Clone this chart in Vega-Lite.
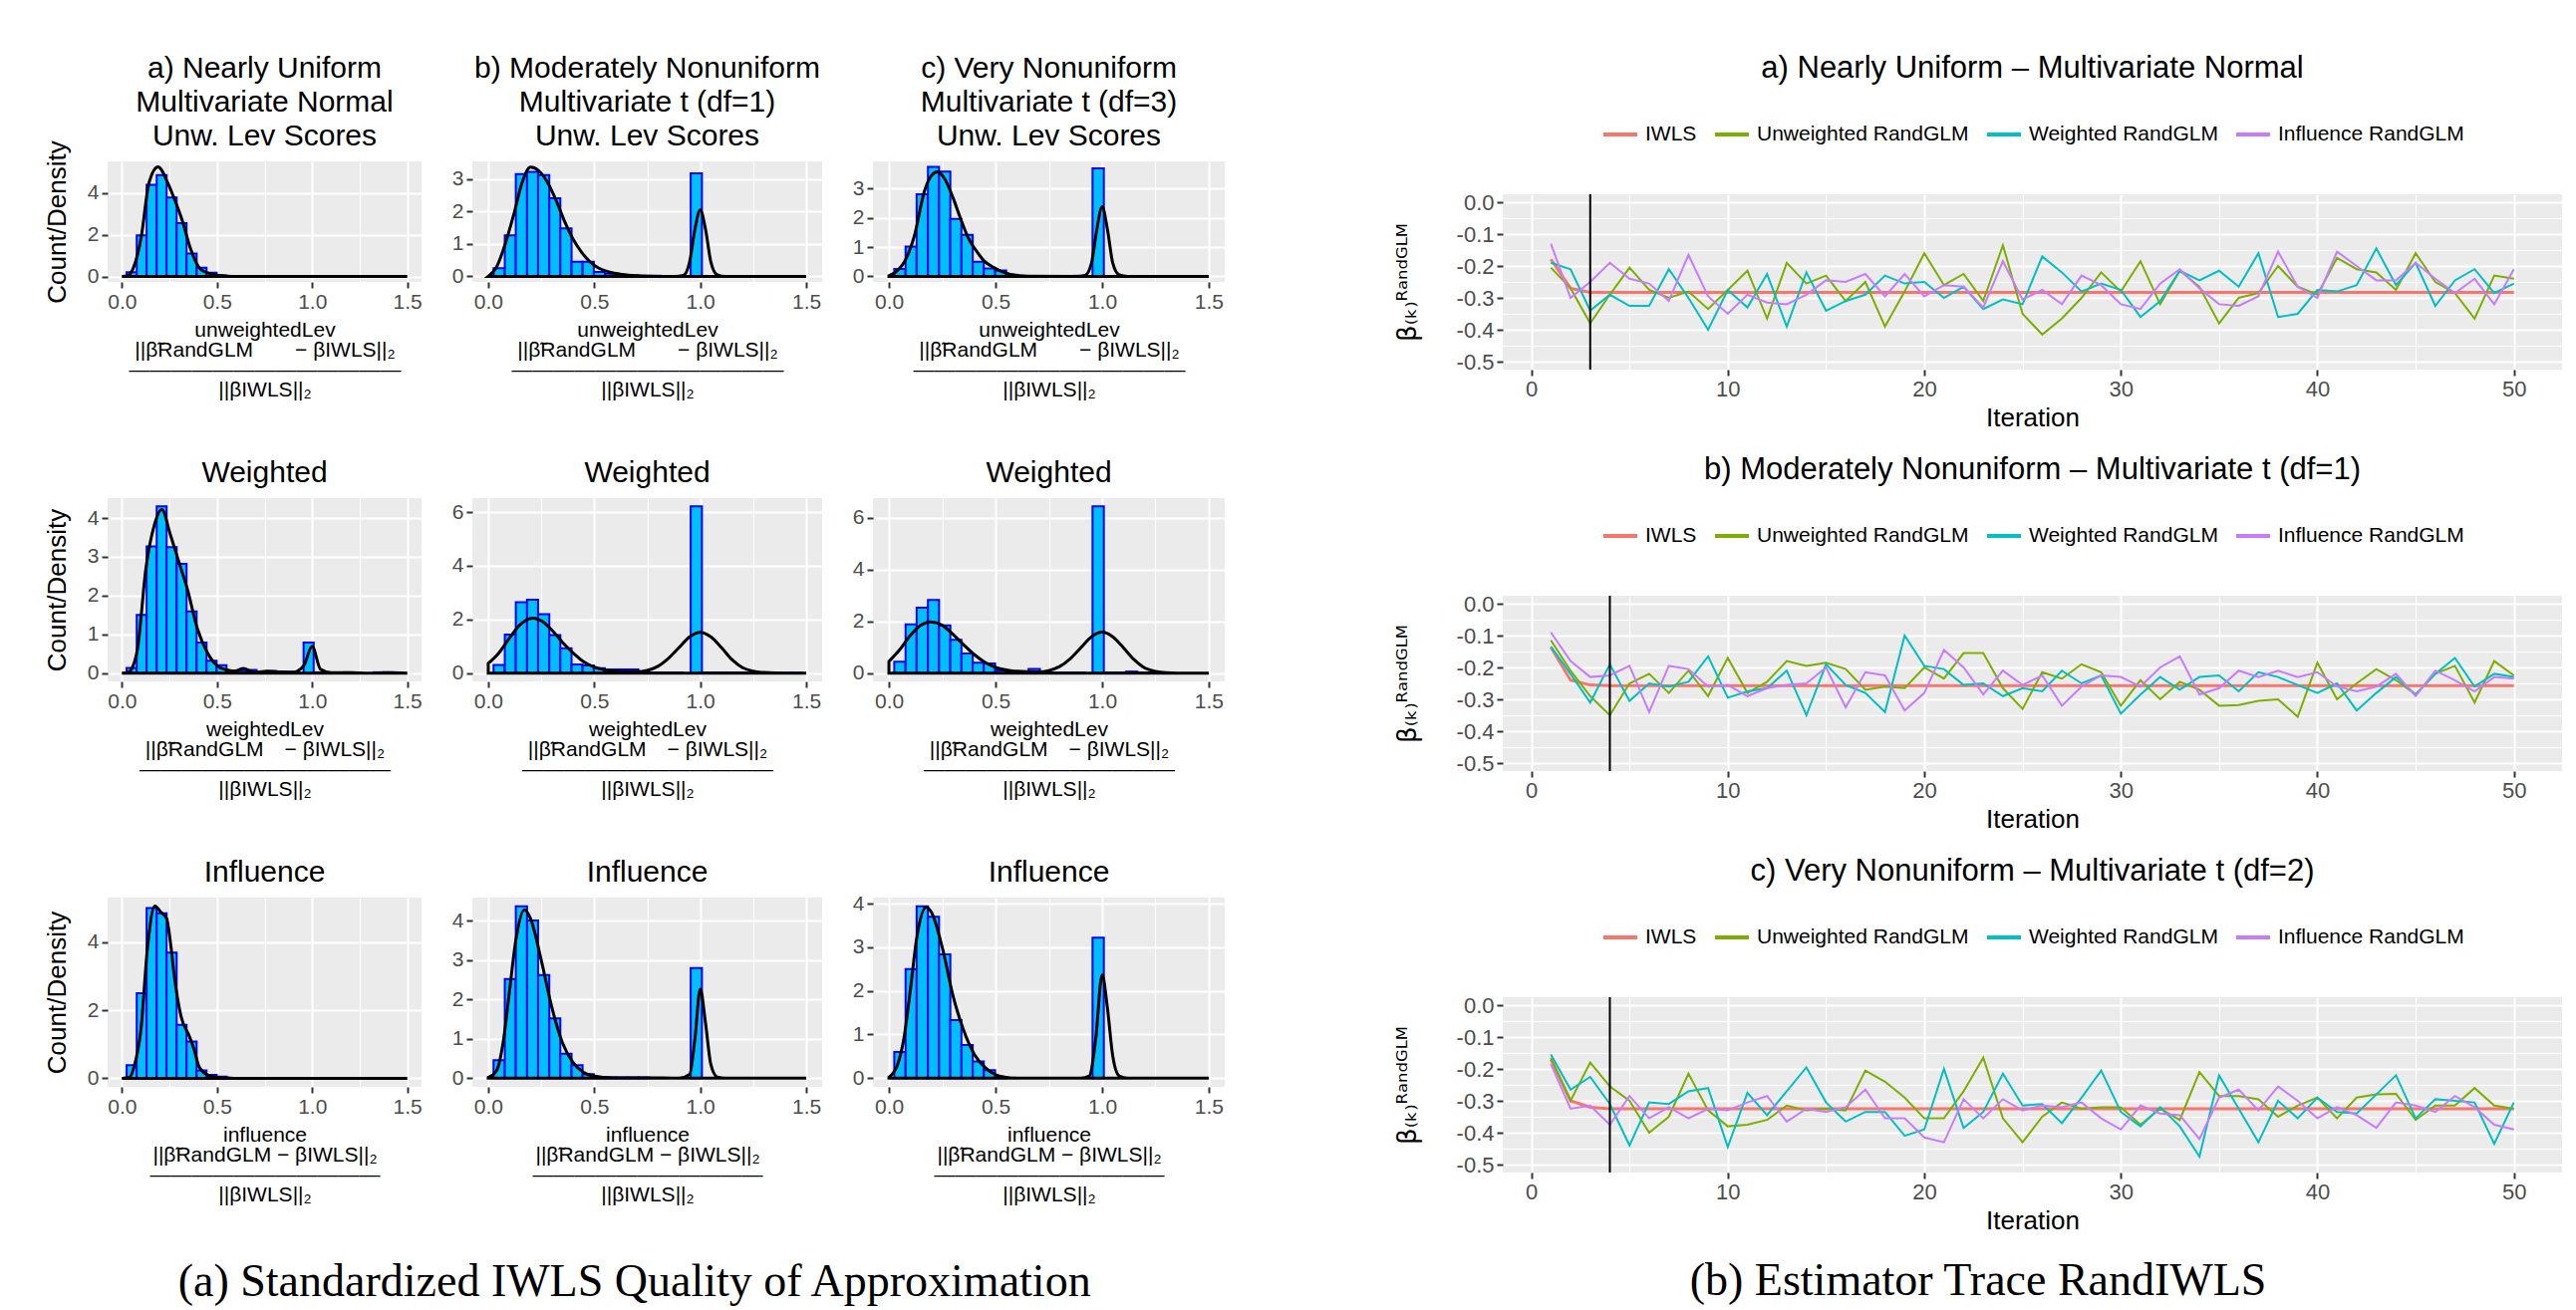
{
  "$schema": "https://vega.github.io/schema/vega-lite/v6.json",
  "padding": {"left": 44, "top": 42, "right": 5, "bottom": 5},
  "datasets": {
    "bars": [
      {"p":"11","a":0.025,"b":0.078,"h":0.21},{"p":"11","a":0.078,"b":0.130,"h":1.97},{"p":"11","a":0.130,"b":0.183,"h":4.39},{"p":"11","a":0.183,"b":0.235,"h":4.86},{"p":"11","a":0.235,"b":0.288,"h":3.78},{"p":"11","a":0.288,"b":0.340,"h":2.55},{"p":"11","a":0.340,"b":0.393,"h":1.1},{"p":"11","a":0.393,"b":0.445,"h":0.42},{"p":"11","a":0.445,"b":0.498,"h":0.18},{"p":"11","a":0.498,"b":0.550,"h":0.05},
      {"p":"12","a":0.025,"b":0.078,"h":0.25},{"p":"12","a":0.078,"b":0.130,"h":1.27},{"p":"12","a":0.130,"b":0.183,"h":3.16},{"p":"12","a":0.183,"b":0.235,"h":3.23},{"p":"12","a":0.235,"b":0.288,"h":3.13},{"p":"12","a":0.288,"b":0.340,"h":2.41},{"p":"12","a":0.340,"b":0.393,"h":1.48},{"p":"12","a":0.393,"b":0.445,"h":0.45},{"p":"12","a":0.445,"b":0.498,"h":0.45},{"p":"12","a":0.498,"b":0.550,"h":0.14},{"p":"12","a":0.550,"b":0.603,"h":0.08},{"p":"12","a":0.603,"b":0.655,"h":0.04},{"p":"12","a":0.655,"b":0.708,"h":0.03},{"p":"12","a":0.708,"b":0.760,"h":0.02},{"p":"12","a":0.760,"b":0.813,"h":0.02},{"p":"12","a":0.955,"b":1.008,"h":3.18},
      {"p":"13","a":0.025,"b":0.078,"h":0.25},{"p":"13","a":0.078,"b":0.130,"h":1.02},{"p":"13","a":0.130,"b":0.183,"h":2.81},{"p":"13","a":0.183,"b":0.235,"h":3.74},{"p":"13","a":0.235,"b":0.288,"h":3.58},{"p":"13","a":0.288,"b":0.340,"h":1.96},{"p":"13","a":0.340,"b":0.393,"h":1.42},{"p":"13","a":0.393,"b":0.445,"h":0.5},{"p":"13","a":0.445,"b":0.498,"h":0.27},{"p":"13","a":0.498,"b":0.550,"h":0.2},{"p":"13","a":0.550,"b":0.603,"h":0.05},{"p":"13","a":0.865,"b":0.918,"h":0.02},{"p":"13","a":0.955,"b":1.008,"h":3.69},
      {"p":"21","a":0.025,"b":0.078,"h":0.13},{"p":"21","a":0.078,"b":0.130,"h":1.5},{"p":"21","a":0.130,"b":0.183,"h":3.27},{"p":"21","a":0.183,"b":0.235,"h":4.3},{"p":"21","a":0.235,"b":0.288,"h":3.25},{"p":"21","a":0.288,"b":0.340,"h":2.82},{"p":"21","a":0.340,"b":0.393,"h":1.59},{"p":"21","a":0.393,"b":0.445,"h":0.79},{"p":"21","a":0.445,"b":0.498,"h":0.32},{"p":"21","a":0.498,"b":0.550,"h":0.2},{"p":"21","a":0.550,"b":0.603,"h":0.06},{"p":"21","a":0.603,"b":0.655,"h":0.06},{"p":"21","a":0.655,"b":0.708,"h":0.08},{"p":"21","a":0.708,"b":0.760,"h":0.03},{"p":"21","a":0.760,"b":0.813,"h":0.05},{"p":"21","a":0.813,"b":0.865,"h":0.04},{"p":"21","a":0.865,"b":0.918,"h":0.03},{"p":"21","a":0.955,"b":1.008,"h":0.79},{"p":"21","a":1.008,"b":1.060,"h":0.02},{"p":"21","a":1.165,"b":1.218,"h":0.02},{"p":"21","a":1.323,"b":1.375,"h":0.02},{"p":"21","a":1.375,"b":1.428,"h":0.02},
      {"p":"22","a":0.025,"b":0.078,"h":0.3},{"p":"22","a":0.078,"b":0.130,"h":1.43},{"p":"22","a":0.130,"b":0.183,"h":2.64},{"p":"22","a":0.183,"b":0.235,"h":2.73},{"p":"22","a":0.235,"b":0.288,"h":2.2},{"p":"22","a":0.288,"b":0.340,"h":1.42},{"p":"22","a":0.340,"b":0.393,"h":0.92},{"p":"22","a":0.393,"b":0.445,"h":0.32},{"p":"22","a":0.445,"b":0.498,"h":0.28},{"p":"22","a":0.498,"b":0.550,"h":0.18},{"p":"22","a":0.550,"b":0.603,"h":0.14},{"p":"22","a":0.603,"b":0.655,"h":0.14},{"p":"22","a":0.655,"b":0.708,"h":0.14},{"p":"22","a":0.708,"b":0.760,"h":0.02},{"p":"22","a":0.760,"b":0.813,"h":0.02},{"p":"22","a":0.813,"b":0.865,"h":0.02},{"p":"22","a":0.865,"b":0.918,"h":0.02},{"p":"22","a":0.955,"b":1.008,"h":6.21},{"p":"22","a":1.008,"b":1.060,"h":0.02},{"p":"22","a":1.060,"b":1.113,"h":0.02},{"p":"22","a":1.113,"b":1.165,"h":0.02},{"p":"22","a":1.165,"b":1.218,"h":0.02},{"p":"22","a":1.375,"b":1.428,"h":0.01},{"p":"22","a":1.428,"b":1.480,"h":0.01},
      {"p":"23","a":0.025,"b":0.078,"h":0.44},{"p":"23","a":0.078,"b":0.130,"h":1.88},{"p":"23","a":0.130,"b":0.183,"h":2.53},{"p":"23","a":0.183,"b":0.235,"h":2.83},{"p":"23","a":0.235,"b":0.288,"h":1.84},{"p":"23","a":0.288,"b":0.340,"h":1.29},{"p":"23","a":0.340,"b":0.393,"h":0.76},{"p":"23","a":0.393,"b":0.445,"h":0.4},{"p":"23","a":0.445,"b":0.498,"h":0.37},{"p":"23","a":0.498,"b":0.550,"h":0.1},{"p":"23","a":0.550,"b":0.603,"h":0.06},{"p":"23","a":0.603,"b":0.655,"h":0.04},{"p":"23","a":0.655,"b":0.708,"h":0.16},{"p":"23","a":0.708,"b":0.760,"h":0.02},{"p":"23","a":0.760,"b":0.813,"h":0.02},{"p":"23","a":0.813,"b":0.865,"h":0.02},{"p":"23","a":0.865,"b":0.918,"h":0.02},{"p":"23","a":0.955,"b":1.008,"h":6.44},{"p":"23","a":1.008,"b":1.060,"h":0.02},{"p":"23","a":1.060,"b":1.113,"h":0.02},{"p":"23","a":1.113,"b":1.165,"h":0.06},{"p":"23","a":1.165,"b":1.218,"h":0.02},{"p":"23","a":1.218,"b":1.270,"h":0.02},{"p":"23","a":1.270,"b":1.323,"h":0.02},
      {"p":"31","a":0.025,"b":0.078,"h":0.39},{"p":"31","a":0.078,"b":0.130,"h":2.5},{"p":"31","a":0.130,"b":0.183,"h":5.0},{"p":"31","a":0.183,"b":0.235,"h":4.85},{"p":"31","a":0.235,"b":0.288,"h":3.69},{"p":"31","a":0.288,"b":0.340,"h":1.57},{"p":"31","a":0.340,"b":0.393,"h":1.08},{"p":"31","a":0.393,"b":0.445,"h":0.23},{"p":"31","a":0.445,"b":0.498,"h":0.1},{"p":"31","a":0.498,"b":0.550,"h":0.05},
      {"p":"32","a":0.025,"b":0.078,"h":0.46},{"p":"32","a":0.078,"b":0.130,"h":2.52},{"p":"32","a":0.130,"b":0.183,"h":4.37},{"p":"32","a":0.183,"b":0.235,"h":4.01},{"p":"32","a":0.235,"b":0.288,"h":2.62},{"p":"32","a":0.288,"b":0.340,"h":1.52},{"p":"32","a":0.340,"b":0.393,"h":0.62},{"p":"32","a":0.393,"b":0.445,"h":0.33},{"p":"32","a":0.445,"b":0.498,"h":0.1},{"p":"32","a":0.498,"b":0.550,"h":0.03},{"p":"32","a":0.550,"b":0.603,"h":0.02},{"p":"32","a":0.603,"b":0.655,"h":0.02},{"p":"32","a":0.655,"b":0.708,"h":0.02},{"p":"32","a":0.708,"b":0.760,"h":0.02},{"p":"32","a":0.955,"b":1.008,"h":2.8},
      {"p":"33","a":0.025,"b":0.078,"h":0.6},{"p":"33","a":0.078,"b":0.130,"h":2.5},{"p":"33","a":0.130,"b":0.183,"h":3.94},{"p":"33","a":0.183,"b":0.235,"h":3.7},{"p":"33","a":0.235,"b":0.288,"h":2.84},{"p":"33","a":0.288,"b":0.340,"h":1.33},{"p":"33","a":0.340,"b":0.393,"h":0.76},{"p":"33","a":0.393,"b":0.445,"h":0.38},{"p":"33","a":0.445,"b":0.498,"h":0.18},{"p":"33","a":0.498,"b":0.550,"h":0.03},{"p":"33","a":0.955,"b":1.008,"h":3.22}
    ],
    "dens": [
      {"p":"11","x":0,"d":0},{"p":"11","x":0.03,"d":0.03},{"p":"11","x":0.06,"d":0.4},{"p":"11","x":0.1,"d":1.8},{"p":"11","x":0.143,"d":4.5},{"p":"11","x":0.19,"d":5.25},{"p":"11","x":0.24,"d":4.5},{"p":"11","x":0.275,"d":3.73},{"p":"11","x":0.318,"d":2.66},{"p":"11","x":0.362,"d":1.3},{"p":"11","x":0.414,"d":0.34},{"p":"11","x":0.48,"d":0.1},{"p":"11","x":0.55,"d":0.02},{"p":"11","x":0.62,"d":0},{"p":"11","x":1.5,"d":0},
      {"p":"12","x":0,"d":0},{"p":"12","x":0.04,"d":0.3},{"p":"12","x":0.08,"d":1.0},{"p":"12","x":0.12,"d":1.9},{"p":"12","x":0.16,"d":2.9},{"p":"12","x":0.2,"d":3.37},{"p":"12","x":0.24,"d":3.25},{"p":"12","x":0.28,"d":2.9},{"p":"12","x":0.32,"d":2.35},{"p":"12","x":0.36,"d":1.7},{"p":"12","x":0.4,"d":1.15},{"p":"12","x":0.44,"d":0.75},{"p":"12","x":0.48,"d":0.45},{"p":"12","x":0.52,"d":0.26},{"p":"12","x":0.58,"d":0.12},{"p":"12","x":0.66,"d":0.04},{"p":"12","x":0.75,"d":0.01},{"p":"12","x":0.88,"d":0},{"p":"12","x":0.92,"d":0.03},{"p":"12","x":0.95,"d":0.45},{"p":"12","x":0.975,"d":1.45},{"p":"12","x":1.0,"d":2.05},{"p":"12","x":1.025,"d":1.45},{"p":"12","x":1.05,"d":0.45},{"p":"12","x":1.08,"d":0.05},{"p":"12","x":1.12,"d":0},{"p":"12","x":1.5,"d":0},
      {"p":"13","x":0,"d":0.02},{"p":"13","x":0.04,"d":0.2},{"p":"13","x":0.073,"d":0.5},{"p":"13","x":0.12,"d":1.4},{"p":"13","x":0.166,"d":2.9},{"p":"13","x":0.2,"d":3.45},{"p":"13","x":0.228,"d":3.57},{"p":"13","x":0.26,"d":3.35},{"p":"13","x":0.3,"d":2.7},{"p":"13","x":0.337,"d":1.95},{"p":"13","x":0.37,"d":1.35},{"p":"13","x":0.415,"d":0.82},{"p":"13","x":0.446,"d":0.53},{"p":"13","x":0.492,"d":0.3},{"p":"13","x":0.57,"d":0.07},{"p":"13","x":0.65,"d":0.01},{"p":"13","x":0.88,"d":0},{"p":"13","x":0.92,"d":0.03},{"p":"13","x":0.95,"d":0.45},{"p":"13","x":0.975,"d":1.6},{"p":"13","x":1.0,"d":2.38},{"p":"13","x":1.025,"d":1.6},{"p":"13","x":1.05,"d":0.45},{"p":"13","x":1.08,"d":0.05},{"p":"13","x":1.12,"d":0},{"p":"13","x":1.5,"d":0},
      {"p":"21","x":0,"d":0},{"p":"21","x":0.03,"d":0.01},{"p":"21","x":0.06,"d":0.2},{"p":"21","x":0.082,"d":0.62},{"p":"21","x":0.126,"d":2.69},{"p":"21","x":0.17,"d":3.81},{"p":"21","x":0.21,"d":4.22},{"p":"21","x":0.256,"d":3.55},{"p":"21","x":0.3,"d":2.86},{"p":"21","x":0.344,"d":2.17},{"p":"21","x":0.397,"d":1.14},{"p":"21","x":0.449,"d":0.53},{"p":"21","x":0.5,"d":0.19},{"p":"21","x":0.55,"d":0.08},{"p":"21","x":0.59,"d":0.05},{"p":"21","x":0.64,"d":0.12},{"p":"21","x":0.68,"d":0.04},{"p":"21","x":0.71,"d":0.02},{"p":"21","x":0.76,"d":0.05},{"p":"21","x":0.82,"d":0.03},{"p":"21","x":0.9,"d":0.02},{"p":"21","x":0.956,"d":0.19},{"p":"21","x":1.0,"d":0.69},{"p":"21","x":1.044,"d":0.1},{"p":"21","x":1.1,"d":0.01},{"p":"21","x":1.2,"d":0.01},{"p":"21","x":1.3,"d":0},{"p":"21","x":1.4,"d":0.01},{"p":"21","x":1.5,"d":0},
      {"p":"22","x":0,"d":0.36},{"p":"22","x":0.05,"d":0.75},{"p":"22","x":0.1,"d":1.3},{"p":"22","x":0.15,"d":1.8},{"p":"22","x":0.21,"d":2.05},{"p":"22","x":0.26,"d":1.9},{"p":"22","x":0.3,"d":1.6},{"p":"22","x":0.35,"d":1.15},{"p":"22","x":0.4,"d":0.75},{"p":"22","x":0.45,"d":0.42},{"p":"22","x":0.5,"d":0.22},{"p":"22","x":0.55,"d":0.12},{"p":"22","x":0.6,"d":0.07},{"p":"22","x":0.7,"d":0.05},{"p":"22","x":0.75,"d":0.1},{"p":"22","x":0.8,"d":0.25},{"p":"22","x":0.85,"d":0.55},{"p":"22","x":0.9,"d":0.95},{"p":"22","x":0.95,"d":1.35},{"p":"22","x":1.0,"d":1.52},{"p":"22","x":1.05,"d":1.35},{"p":"22","x":1.1,"d":0.95},{"p":"22","x":1.15,"d":0.5},{"p":"22","x":1.2,"d":0.2},{"p":"22","x":1.25,"d":0.07},{"p":"22","x":1.3,"d":0.02},{"p":"22","x":1.4,"d":0},{"p":"22","x":1.5,"d":0},
      {"p":"23","x":0,"d":0.45},{"p":"23","x":0.05,"d":0.9},{"p":"23","x":0.1,"d":1.45},{"p":"23","x":0.15,"d":1.85},{"p":"23","x":0.196,"d":1.98},{"p":"23","x":0.25,"d":1.85},{"p":"23","x":0.3,"d":1.5},{"p":"23","x":0.35,"d":1.1},{"p":"23","x":0.4,"d":0.72},{"p":"23","x":0.45,"d":0.42},{"p":"23","x":0.5,"d":0.22},{"p":"23","x":0.55,"d":0.12},{"p":"23","x":0.6,"d":0.07},{"p":"23","x":0.7,"d":0.05},{"p":"23","x":0.75,"d":0.1},{"p":"23","x":0.8,"d":0.25},{"p":"23","x":0.85,"d":0.55},{"p":"23","x":0.9,"d":0.98},{"p":"23","x":0.95,"d":1.4},{"p":"23","x":1.0,"d":1.58},{"p":"23","x":1.05,"d":1.4},{"p":"23","x":1.1,"d":0.98},{"p":"23","x":1.15,"d":0.52},{"p":"23","x":1.2,"d":0.2},{"p":"23","x":1.25,"d":0.07},{"p":"23","x":1.3,"d":0.02},{"p":"23","x":1.4,"d":0},{"p":"23","x":1.5,"d":0},
      {"p":"31","x":0,"d":0},{"p":"31","x":0.04,"d":0.03},{"p":"31","x":0.065,"d":0.36},{"p":"31","x":0.1,"d":1.43},{"p":"31","x":0.135,"d":3.86},{"p":"31","x":0.173,"d":5.06},{"p":"31","x":0.205,"d":4.88},{"p":"31","x":0.235,"d":4.7},{"p":"31","x":0.255,"d":4.0},{"p":"31","x":0.276,"d":2.98},{"p":"31","x":0.311,"d":1.82},{"p":"31","x":0.355,"d":1.23},{"p":"31","x":0.38,"d":0.84},{"p":"31","x":0.405,"d":0.35},{"p":"31","x":0.45,"d":0.1},{"p":"31","x":0.5,"d":0.03},{"p":"31","x":0.56,"d":0.01},{"p":"31","x":0.6,"d":0},{"p":"31","x":1.5,"d":0},
      {"p":"32","x":0,"d":0.02},{"p":"32","x":0.04,"d":0.2},{"p":"32","x":0.07,"d":0.9},{"p":"32","x":0.1,"d":2.2},{"p":"32","x":0.13,"d":3.5},{"p":"32","x":0.171,"d":4.28},{"p":"32","x":0.2,"d":4.05},{"p":"32","x":0.25,"d":3.0},{"p":"32","x":0.3,"d":1.8},{"p":"32","x":0.35,"d":0.9},{"p":"32","x":0.4,"d":0.4},{"p":"32","x":0.45,"d":0.15},{"p":"32","x":0.5,"d":0.05},{"p":"32","x":0.55,"d":0.02},{"p":"32","x":0.6,"d":0.01},{"p":"32","x":0.75,"d":0.01},{"p":"32","x":0.9,"d":0},{"p":"32","x":0.95,"d":0.1},{"p":"32","x":0.975,"d":1.0},{"p":"32","x":1.0,"d":2.27},{"p":"32","x":1.025,"d":1.4},{"p":"32","x":1.05,"d":0.35},{"p":"32","x":1.08,"d":0.03},{"p":"32","x":1.12,"d":0},{"p":"32","x":1.5,"d":0},
      {"p":"33","x":0,"d":0.02},{"p":"33","x":0.04,"d":0.3},{"p":"33","x":0.07,"d":0.9},{"p":"33","x":0.1,"d":2.0},{"p":"33","x":0.13,"d":3.2},{"p":"33","x":0.174,"d":3.92},{"p":"33","x":0.2,"d":3.8},{"p":"33","x":0.25,"d":3.0},{"p":"33","x":0.3,"d":1.9},{"p":"33","x":0.35,"d":1.1},{"p":"33","x":0.4,"d":0.55},{"p":"33","x":0.45,"d":0.25},{"p":"33","x":0.5,"d":0.08},{"p":"33","x":0.55,"d":0.02},{"p":"33","x":0.6,"d":0},{"p":"33","x":0.9,"d":0},{"p":"33","x":0.94,"d":0.05},{"p":"33","x":0.97,"d":0.9},{"p":"33","x":1.0,"d":2.37},{"p":"33","x":1.025,"d":1.6},{"p":"33","x":1.05,"d":0.5},{"p":"33","x":1.08,"d":0.05},{"p":"33","x":1.12,"d":0},{"p":"33","x":1.5,"d":0}
    ],
    "trace": [
      {"c":"a","i":1,"IWLS":-0.179,"Unweighted RandGLM":-0.205,"Weighted RandGLM":-0.19,"Influence RandGLM":-0.13},
      {"c":"a","i":2,"IWLS":-0.27,"Unweighted RandGLM":-0.27,"Weighted RandGLM":-0.21,"Influence RandGLM":-0.3},
      {"c":"a","i":3,"IWLS":-0.283,"Unweighted RandGLM":-0.38,"Weighted RandGLM":-0.34,"Influence RandGLM":-0.25},
      {"c":"a","i":4,"IWLS":-0.283,"Unweighted RandGLM":-0.29,"Weighted RandGLM":-0.29,"Influence RandGLM":-0.19},
      {"c":"a","i":5,"IWLS":-0.283,"Unweighted RandGLM":-0.205,"Weighted RandGLM":-0.325,"Influence RandGLM":-0.24},
      {"c":"a","i":6,"IWLS":-0.283,"Unweighted RandGLM":-0.275,"Weighted RandGLM":-0.325,"Influence RandGLM":-0.255},
      {"c":"a","i":7,"IWLS":-0.283,"Unweighted RandGLM":-0.3,"Weighted RandGLM":-0.21,"Influence RandGLM":-0.31},
      {"c":"a","i":8,"IWLS":-0.283,"Unweighted RandGLM":-0.28,"Weighted RandGLM":-0.3,"Influence RandGLM":-0.165},
      {"c":"a","i":9,"IWLS":-0.283,"Unweighted RandGLM":-0.335,"Weighted RandGLM":-0.4,"Influence RandGLM":-0.295},
      {"c":"a","i":10,"IWLS":-0.283,"Unweighted RandGLM":-0.275,"Weighted RandGLM":-0.275,"Influence RandGLM":-0.35},
      {"c":"a","i":11,"IWLS":-0.283,"Unweighted RandGLM":-0.215,"Weighted RandGLM":-0.33,"Influence RandGLM":-0.29},
      {"c":"a","i":12,"IWLS":-0.283,"Unweighted RandGLM":-0.365,"Weighted RandGLM":-0.225,"Influence RandGLM":-0.315},
      {"c":"a","i":13,"IWLS":-0.283,"Unweighted RandGLM":-0.19,"Weighted RandGLM":-0.39,"Influence RandGLM":-0.32},
      {"c":"a","i":14,"IWLS":-0.283,"Unweighted RandGLM":-0.255,"Weighted RandGLM":-0.22,"Influence RandGLM":-0.29},
      {"c":"a","i":15,"IWLS":-0.283,"Unweighted RandGLM":-0.23,"Weighted RandGLM":-0.34,"Influence RandGLM":-0.245},
      {"c":"a","i":16,"IWLS":-0.283,"Unweighted RandGLM":-0.31,"Weighted RandGLM":-0.31,"Influence RandGLM":-0.25},
      {"c":"a","i":17,"IWLS":-0.283,"Unweighted RandGLM":-0.25,"Weighted RandGLM":-0.29,"Influence RandGLM":-0.225},
      {"c":"a","i":18,"IWLS":-0.283,"Unweighted RandGLM":-0.39,"Weighted RandGLM":-0.23,"Influence RandGLM":-0.295},
      {"c":"a","i":19,"IWLS":-0.283,"Unweighted RandGLM":-0.28,"Weighted RandGLM":-0.255,"Influence RandGLM":-0.225},
      {"c":"a","i":20,"IWLS":-0.283,"Unweighted RandGLM":-0.16,"Weighted RandGLM":-0.25,"Influence RandGLM":-0.295},
      {"c":"a","i":21,"IWLS":-0.283,"Unweighted RandGLM":-0.26,"Weighted RandGLM":-0.3,"Influence RandGLM":-0.26},
      {"c":"a","i":22,"IWLS":-0.283,"Unweighted RandGLM":-0.225,"Weighted RandGLM":-0.265,"Influence RandGLM":-0.265},
      {"c":"a","i":23,"IWLS":-0.283,"Unweighted RandGLM":-0.31,"Weighted RandGLM":-0.335,"Influence RandGLM":-0.33},
      {"c":"a","i":24,"IWLS":-0.283,"Unweighted RandGLM":-0.135,"Weighted RandGLM":-0.305,"Influence RandGLM":-0.185},
      {"c":"a","i":25,"IWLS":-0.283,"Unweighted RandGLM":-0.35,"Weighted RandGLM":-0.32,"Influence RandGLM":-0.305},
      {"c":"a","i":26,"IWLS":-0.283,"Unweighted RandGLM":-0.415,"Weighted RandGLM":-0.17,"Influence RandGLM":-0.275},
      {"c":"a","i":27,"IWLS":-0.283,"Unweighted RandGLM":-0.365,"Weighted RandGLM":-0.22,"Influence RandGLM":-0.32},
      {"c":"a","i":28,"IWLS":-0.283,"Unweighted RandGLM":-0.3,"Weighted RandGLM":-0.28,"Influence RandGLM":-0.23},
      {"c":"a","i":29,"IWLS":-0.283,"Unweighted RandGLM":-0.22,"Weighted RandGLM":-0.255,"Influence RandGLM":-0.26},
      {"c":"a","i":30,"IWLS":-0.283,"Unweighted RandGLM":-0.28,"Weighted RandGLM":-0.275,"Influence RandGLM":-0.32},
      {"c":"a","i":31,"IWLS":-0.283,"Unweighted RandGLM":-0.185,"Weighted RandGLM":-0.36,"Influence RandGLM":-0.335},
      {"c":"a","i":32,"IWLS":-0.283,"Unweighted RandGLM":-0.32,"Weighted RandGLM":-0.31,"Influence RandGLM":-0.255},
      {"c":"a","i":33,"IWLS":-0.283,"Unweighted RandGLM":-0.215,"Weighted RandGLM":-0.215,"Influence RandGLM":-0.21},
      {"c":"a","i":34,"IWLS":-0.283,"Unweighted RandGLM":-0.265,"Weighted RandGLM":-0.245,"Influence RandGLM":-0.27},
      {"c":"a","i":35,"IWLS":-0.283,"Unweighted RandGLM":-0.38,"Weighted RandGLM":-0.215,"Influence RandGLM":-0.32},
      {"c":"a","i":36,"IWLS":-0.283,"Unweighted RandGLM":-0.3,"Weighted RandGLM":-0.265,"Influence RandGLM":-0.325},
      {"c":"a","i":37,"IWLS":-0.283,"Unweighted RandGLM":-0.285,"Weighted RandGLM":-0.16,"Influence RandGLM":-0.295},
      {"c":"a","i":38,"IWLS":-0.283,"Unweighted RandGLM":-0.2,"Weighted RandGLM":-0.36,"Influence RandGLM":-0.155},
      {"c":"a","i":39,"IWLS":-0.283,"Unweighted RandGLM":-0.265,"Weighted RandGLM":-0.35,"Influence RandGLM":-0.265},
      {"c":"a","i":40,"IWLS":-0.283,"Unweighted RandGLM":-0.29,"Weighted RandGLM":-0.275,"Influence RandGLM":-0.3},
      {"c":"a","i":41,"IWLS":-0.283,"Unweighted RandGLM":-0.175,"Weighted RandGLM":-0.28,"Influence RandGLM":-0.155},
      {"c":"a","i":42,"IWLS":-0.283,"Unweighted RandGLM":-0.21,"Weighted RandGLM":-0.26,"Influence RandGLM":-0.2},
      {"c":"a","i":43,"IWLS":-0.283,"Unweighted RandGLM":-0.22,"Weighted RandGLM":-0.145,"Influence RandGLM":-0.245},
      {"c":"a","i":44,"IWLS":-0.283,"Unweighted RandGLM":-0.275,"Weighted RandGLM":-0.26,"Influence RandGLM":-0.245},
      {"c":"a","i":45,"IWLS":-0.283,"Unweighted RandGLM":-0.16,"Weighted RandGLM":-0.19,"Influence RandGLM":-0.19},
      {"c":"a","i":46,"IWLS":-0.283,"Unweighted RandGLM":-0.25,"Weighted RandGLM":-0.325,"Influence RandGLM":-0.24},
      {"c":"a","i":47,"IWLS":-0.283,"Unweighted RandGLM":-0.285,"Weighted RandGLM":-0.245,"Influence RandGLM":-0.285},
      {"c":"a","i":48,"IWLS":-0.283,"Unweighted RandGLM":-0.365,"Weighted RandGLM":-0.21,"Influence RandGLM":-0.24},
      {"c":"a","i":49,"IWLS":-0.283,"Unweighted RandGLM":-0.23,"Weighted RandGLM":-0.285,"Influence RandGLM":-0.32},
      {"c":"a","i":50,"IWLS":-0.283,"Unweighted RandGLM":-0.24,"Weighted RandGLM":-0.255,"Influence RandGLM":-0.21},
      {"c":"b","i":1,"IWLS":-0.137,"Unweighted RandGLM":-0.115,"Weighted RandGLM":-0.135,"Influence RandGLM":-0.09},
      {"c":"b","i":2,"IWLS":-0.24,"Unweighted RandGLM":-0.21,"Weighted RandGLM":-0.22,"Influence RandGLM":-0.18},
      {"c":"b","i":3,"IWLS":-0.255,"Unweighted RandGLM":-0.29,"Weighted RandGLM":-0.31,"Influence RandGLM":-0.23},
      {"c":"b","i":4,"IWLS":-0.257,"Unweighted RandGLM":-0.35,"Weighted RandGLM":-0.19,"Influence RandGLM":-0.225},
      {"c":"b","i":5,"IWLS":-0.257,"Unweighted RandGLM":-0.25,"Weighted RandGLM":-0.305,"Influence RandGLM":-0.195},
      {"c":"b","i":6,"IWLS":-0.257,"Unweighted RandGLM":-0.22,"Weighted RandGLM":-0.25,"Influence RandGLM":-0.34},
      {"c":"b","i":7,"IWLS":-0.257,"Unweighted RandGLM":-0.28,"Weighted RandGLM":-0.26,"Influence RandGLM":-0.195},
      {"c":"b","i":8,"IWLS":-0.257,"Unweighted RandGLM":-0.21,"Weighted RandGLM":-0.245,"Influence RandGLM":-0.205},
      {"c":"b","i":9,"IWLS":-0.257,"Unweighted RandGLM":-0.29,"Weighted RandGLM":-0.165,"Influence RandGLM":-0.26},
      {"c":"b","i":10,"IWLS":-0.257,"Unweighted RandGLM":-0.17,"Weighted RandGLM":-0.295,"Influence RandGLM":-0.255},
      {"c":"b","i":11,"IWLS":-0.257,"Unweighted RandGLM":-0.28,"Weighted RandGLM":-0.275,"Influence RandGLM":-0.29},
      {"c":"b","i":12,"IWLS":-0.257,"Unweighted RandGLM":-0.245,"Weighted RandGLM":-0.265,"Influence RandGLM":-0.265},
      {"c":"b","i":13,"IWLS":-0.257,"Unweighted RandGLM":-0.18,"Weighted RandGLM":-0.21,"Influence RandGLM":-0.255},
      {"c":"b","i":14,"IWLS":-0.257,"Unweighted RandGLM":-0.195,"Weighted RandGLM":-0.35,"Influence RandGLM":-0.25},
      {"c":"b","i":15,"IWLS":-0.257,"Unweighted RandGLM":-0.185,"Weighted RandGLM":-0.19,"Influence RandGLM":-0.2},
      {"c":"b","i":16,"IWLS":-0.257,"Unweighted RandGLM":-0.205,"Weighted RandGLM":-0.255,"Influence RandGLM":-0.325},
      {"c":"b","i":17,"IWLS":-0.257,"Unweighted RandGLM":-0.27,"Weighted RandGLM":-0.28,"Influence RandGLM":-0.215},
      {"c":"b","i":18,"IWLS":-0.257,"Unweighted RandGLM":-0.26,"Weighted RandGLM":-0.34,"Influence RandGLM":-0.225},
      {"c":"b","i":19,"IWLS":-0.257,"Unweighted RandGLM":-0.265,"Weighted RandGLM":-0.1,"Influence RandGLM":-0.335},
      {"c":"b","i":20,"IWLS":-0.257,"Unweighted RandGLM":-0.2,"Weighted RandGLM":-0.195,"Influence RandGLM":-0.28},
      {"c":"b","i":21,"IWLS":-0.257,"Unweighted RandGLM":-0.235,"Weighted RandGLM":-0.205,"Influence RandGLM":-0.145},
      {"c":"b","i":22,"IWLS":-0.257,"Unweighted RandGLM":-0.155,"Weighted RandGLM":-0.255,"Influence RandGLM":-0.2},
      {"c":"b","i":23,"IWLS":-0.257,"Unweighted RandGLM":-0.155,"Weighted RandGLM":-0.25,"Influence RandGLM":-0.285},
      {"c":"b","i":24,"IWLS":-0.257,"Unweighted RandGLM":-0.265,"Weighted RandGLM":-0.29,"Influence RandGLM":-0.21},
      {"c":"b","i":25,"IWLS":-0.257,"Unweighted RandGLM":-0.33,"Weighted RandGLM":-0.265,"Influence RandGLM":-0.255},
      {"c":"b","i":26,"IWLS":-0.257,"Unweighted RandGLM":-0.215,"Weighted RandGLM":-0.275,"Influence RandGLM":-0.225},
      {"c":"b","i":27,"IWLS":-0.257,"Unweighted RandGLM":-0.235,"Weighted RandGLM":-0.21,"Influence RandGLM":-0.32},
      {"c":"b","i":28,"IWLS":-0.257,"Unweighted RandGLM":-0.19,"Weighted RandGLM":-0.25,"Influence RandGLM":-0.26},
      {"c":"b","i":29,"IWLS":-0.257,"Unweighted RandGLM":-0.215,"Weighted RandGLM":-0.225,"Influence RandGLM":-0.225},
      {"c":"b","i":30,"IWLS":-0.257,"Unweighted RandGLM":-0.32,"Weighted RandGLM":-0.345,"Influence RandGLM":-0.23},
      {"c":"b","i":31,"IWLS":-0.257,"Unweighted RandGLM":-0.24,"Weighted RandGLM":-0.285,"Influence RandGLM":-0.26},
      {"c":"b","i":32,"IWLS":-0.257,"Unweighted RandGLM":-0.3,"Weighted RandGLM":-0.23,"Influence RandGLM":-0.2},
      {"c":"b","i":33,"IWLS":-0.257,"Unweighted RandGLM":-0.245,"Weighted RandGLM":-0.27,"Influence RandGLM":-0.165},
      {"c":"b","i":34,"IWLS":-0.257,"Unweighted RandGLM":-0.27,"Weighted RandGLM":-0.23,"Influence RandGLM":-0.285},
      {"c":"b","i":35,"IWLS":-0.257,"Unweighted RandGLM":-0.32,"Weighted RandGLM":-0.225,"Influence RandGLM":-0.265},
      {"c":"b","i":36,"IWLS":-0.257,"Unweighted RandGLM":-0.318,"Weighted RandGLM":-0.275,"Influence RandGLM":-0.21},
      {"c":"b","i":37,"IWLS":-0.257,"Unweighted RandGLM":-0.305,"Weighted RandGLM":-0.215,"Influence RandGLM":-0.23},
      {"c":"b","i":38,"IWLS":-0.257,"Unweighted RandGLM":-0.3,"Weighted RandGLM":-0.23,"Influence RandGLM":-0.21},
      {"c":"b","i":39,"IWLS":-0.257,"Unweighted RandGLM":-0.355,"Weighted RandGLM":-0.255,"Influence RandGLM":-0.23},
      {"c":"b","i":40,"IWLS":-0.257,"Unweighted RandGLM":-0.185,"Weighted RandGLM":-0.28,"Influence RandGLM":-0.215},
      {"c":"b","i":41,"IWLS":-0.257,"Unweighted RandGLM":-0.3,"Weighted RandGLM":-0.25,"Influence RandGLM":-0.26},
      {"c":"b","i":42,"IWLS":-0.257,"Unweighted RandGLM":-0.25,"Weighted RandGLM":-0.335,"Influence RandGLM":-0.275},
      {"c":"b","i":43,"IWLS":-0.257,"Unweighted RandGLM":-0.205,"Weighted RandGLM":-0.28,"Influence RandGLM":-0.26},
      {"c":"b","i":44,"IWLS":-0.257,"Unweighted RandGLM":-0.24,"Weighted RandGLM":-0.23,"Influence RandGLM":-0.22},
      {"c":"b","i":45,"IWLS":-0.257,"Unweighted RandGLM":-0.285,"Weighted RandGLM":-0.285,"Influence RandGLM":-0.29},
      {"c":"b","i":46,"IWLS":-0.257,"Unweighted RandGLM":-0.22,"Weighted RandGLM":-0.22,"Influence RandGLM":-0.21},
      {"c":"b","i":47,"IWLS":-0.257,"Unweighted RandGLM":-0.195,"Weighted RandGLM":-0.17,"Influence RandGLM":-0.24},
      {"c":"b","i":48,"IWLS":-0.257,"Unweighted RandGLM":-0.31,"Weighted RandGLM":-0.26,"Influence RandGLM":-0.275},
      {"c":"b","i":49,"IWLS":-0.257,"Unweighted RandGLM":-0.18,"Weighted RandGLM":-0.22,"Influence RandGLM":-0.23},
      {"c":"b","i":50,"IWLS":-0.257,"Unweighted RandGLM":-0.225,"Weighted RandGLM":-0.23,"Influence RandGLM":-0.235},
      {"c":"c","i":1,"IWLS":-0.17,"Unweighted RandGLM":-0.165,"Weighted RandGLM":-0.155,"Influence RandGLM":-0.185},
      {"c":"c","i":2,"IWLS":-0.3,"Unweighted RandGLM":-0.3,"Weighted RandGLM":-0.265,"Influence RandGLM":-0.325},
      {"c":"c","i":3,"IWLS":-0.32,"Unweighted RandGLM":-0.18,"Weighted RandGLM":-0.225,"Influence RandGLM":-0.315},
      {"c":"c","i":4,"IWLS":-0.325,"Unweighted RandGLM":-0.255,"Weighted RandGLM":-0.31,"Influence RandGLM":-0.375},
      {"c":"c","i":5,"IWLS":-0.325,"Unweighted RandGLM":-0.3,"Weighted RandGLM":-0.44,"Influence RandGLM":-0.285},
      {"c":"c","i":6,"IWLS":-0.325,"Unweighted RandGLM":-0.4,"Weighted RandGLM":-0.305,"Influence RandGLM":-0.355},
      {"c":"c","i":7,"IWLS":-0.325,"Unweighted RandGLM":-0.35,"Weighted RandGLM":-0.31,"Influence RandGLM":-0.32},
      {"c":"c","i":8,"IWLS":-0.325,"Unweighted RandGLM":-0.215,"Weighted RandGLM":-0.27,"Influence RandGLM":-0.355},
      {"c":"c","i":9,"IWLS":-0.325,"Unweighted RandGLM":-0.33,"Weighted RandGLM":-0.26,"Influence RandGLM":-0.325},
      {"c":"c","i":10,"IWLS":-0.325,"Unweighted RandGLM":-0.38,"Weighted RandGLM":-0.445,"Influence RandGLM":-0.33},
      {"c":"c","i":11,"IWLS":-0.325,"Unweighted RandGLM":-0.375,"Weighted RandGLM":-0.275,"Influence RandGLM":-0.305},
      {"c":"c","i":12,"IWLS":-0.325,"Unweighted RandGLM":-0.36,"Weighted RandGLM":-0.345,"Influence RandGLM":-0.285},
      {"c":"c","i":13,"IWLS":-0.325,"Unweighted RandGLM":-0.315,"Weighted RandGLM":-0.27,"Influence RandGLM":-0.365},
      {"c":"c","i":14,"IWLS":-0.325,"Unweighted RandGLM":-0.33,"Weighted RandGLM":-0.195,"Influence RandGLM":-0.325},
      {"c":"c","i":15,"IWLS":-0.325,"Unweighted RandGLM":-0.325,"Weighted RandGLM":-0.305,"Influence RandGLM":-0.335},
      {"c":"c","i":16,"IWLS":-0.325,"Unweighted RandGLM":-0.33,"Weighted RandGLM":-0.365,"Influence RandGLM":-0.32},
      {"c":"c","i":17,"IWLS":-0.325,"Unweighted RandGLM":-0.205,"Weighted RandGLM":-0.335,"Influence RandGLM":-0.265},
      {"c":"c","i":18,"IWLS":-0.325,"Unweighted RandGLM":-0.24,"Weighted RandGLM":-0.335,"Influence RandGLM":-0.355},
      {"c":"c","i":19,"IWLS":-0.325,"Unweighted RandGLM":-0.29,"Weighted RandGLM":-0.41,"Influence RandGLM":-0.355},
      {"c":"c","i":20,"IWLS":-0.325,"Unweighted RandGLM":-0.355,"Weighted RandGLM":-0.39,"Influence RandGLM":-0.415},
      {"c":"c","i":21,"IWLS":-0.325,"Unweighted RandGLM":-0.355,"Weighted RandGLM":-0.2,"Influence RandGLM":-0.43},
      {"c":"c","i":22,"IWLS":-0.325,"Unweighted RandGLM":-0.27,"Weighted RandGLM":-0.385,"Influence RandGLM":-0.295},
      {"c":"c","i":23,"IWLS":-0.325,"Unweighted RandGLM":-0.165,"Weighted RandGLM":-0.335,"Influence RandGLM":-0.355},
      {"c":"c","i":24,"IWLS":-0.325,"Unweighted RandGLM":-0.355,"Weighted RandGLM":-0.215,"Influence RandGLM":-0.295},
      {"c":"c","i":25,"IWLS":-0.325,"Unweighted RandGLM":-0.43,"Weighted RandGLM":-0.315,"Influence RandGLM":-0.33},
      {"c":"c","i":26,"IWLS":-0.325,"Unweighted RandGLM":-0.35,"Weighted RandGLM":-0.31,"Influence RandGLM":-0.315},
      {"c":"c","i":27,"IWLS":-0.325,"Unweighted RandGLM":-0.305,"Weighted RandGLM":-0.37,"Influence RandGLM":-0.32},
      {"c":"c","i":28,"IWLS":-0.325,"Unweighted RandGLM":-0.325,"Weighted RandGLM":-0.29,"Influence RandGLM":-0.305},
      {"c":"c","i":29,"IWLS":-0.325,"Unweighted RandGLM":-0.32,"Weighted RandGLM":-0.205,"Influence RandGLM":-0.355},
      {"c":"c","i":30,"IWLS":-0.325,"Unweighted RandGLM":-0.32,"Weighted RandGLM":-0.335,"Influence RandGLM":-0.39},
      {"c":"c","i":31,"IWLS":-0.325,"Unweighted RandGLM":-0.375,"Weighted RandGLM":-0.38,"Influence RandGLM":-0.315},
      {"c":"c","i":32,"IWLS":-0.325,"Unweighted RandGLM":-0.325,"Weighted RandGLM":-0.32,"Influence RandGLM":-0.34},
      {"c":"c","i":33,"IWLS":-0.325,"Unweighted RandGLM":-0.36,"Weighted RandGLM":-0.38,"Influence RandGLM":-0.345},
      {"c":"c","i":34,"IWLS":-0.325,"Unweighted RandGLM":-0.21,"Weighted RandGLM":-0.475,"Influence RandGLM":-0.42},
      {"c":"c","i":35,"IWLS":-0.325,"Unweighted RandGLM":-0.285,"Weighted RandGLM":-0.22,"Influence RandGLM":-0.29},
      {"c":"c","i":36,"IWLS":-0.325,"Unweighted RandGLM":-0.285,"Weighted RandGLM":-0.325,"Influence RandGLM":-0.265},
      {"c":"c","i":37,"IWLS":-0.325,"Unweighted RandGLM":-0.295,"Weighted RandGLM":-0.43,"Influence RandGLM":-0.33},
      {"c":"c","i":38,"IWLS":-0.325,"Unweighted RandGLM":-0.35,"Weighted RandGLM":-0.3,"Influence RandGLM":-0.255},
      {"c":"c","i":39,"IWLS":-0.325,"Unweighted RandGLM":-0.315,"Weighted RandGLM":-0.355,"Influence RandGLM":-0.3},
      {"c":"c","i":40,"IWLS":-0.325,"Unweighted RandGLM":-0.29,"Weighted RandGLM":-0.29,"Influence RandGLM":-0.355},
      {"c":"c","i":41,"IWLS":-0.325,"Unweighted RandGLM":-0.355,"Weighted RandGLM":-0.335,"Influence RandGLM":-0.32},
      {"c":"c","i":42,"IWLS":-0.325,"Unweighted RandGLM":-0.29,"Weighted RandGLM":-0.34,"Influence RandGLM":-0.345},
      {"c":"c","i":43,"IWLS":-0.325,"Unweighted RandGLM":-0.28,"Weighted RandGLM":-0.28,"Influence RandGLM":-0.385},
      {"c":"c","i":44,"IWLS":-0.325,"Unweighted RandGLM":-0.278,"Weighted RandGLM":-0.22,"Influence RandGLM":-0.305},
      {"c":"c","i":45,"IWLS":-0.325,"Unweighted RandGLM":-0.36,"Weighted RandGLM":-0.355,"Influence RandGLM":-0.315},
      {"c":"c","i":46,"IWLS":-0.325,"Unweighted RandGLM":-0.315,"Weighted RandGLM":-0.295,"Influence RandGLM":-0.335},
      {"c":"c","i":47,"IWLS":-0.325,"Unweighted RandGLM":-0.315,"Weighted RandGLM":-0.3,"Influence RandGLM":-0.285},
      {"c":"c","i":48,"IWLS":-0.325,"Unweighted RandGLM":-0.26,"Weighted RandGLM":-0.305,"Influence RandGLM":-0.32},
      {"c":"c","i":49,"IWLS":-0.325,"Unweighted RandGLM":-0.315,"Weighted RandGLM":-0.435,"Influence RandGLM":-0.375},
      {"c":"c","i":50,"IWLS":-0.325,"Unweighted RandGLM":-0.325,"Weighted RandGLM":-0.305,"Influence RandGLM":-0.39}
    ],
    "vline": [{"c":"a","k":3},{"c":"b","k":4},{"c":"c","k":4}]
  },
  "hconcat": [
    {
      "title": {"text": "(a) Standardized IWLS Quality of Approximation", "orient": "bottom", "frame": "bounds", "anchor": "middle", "font": "Liberation Serif", "fontSize": 46, "offset": 56},
      "spacing": 4,
      "vconcat": [
        {"width": 1, "height": 1, "view": {"fill": null, "stroke": null}, "data": {"values": [{}]}, "mark": {"type": "point", "opacity": 0}},
        {
      "columns": 3, "spacing": {"row": 217, "column": 51}, "bounds": "flush", "align": "each",
      "concat": [
          {"width": 315, "height": 121, "title": {"text": ["a) Nearly Uniform", "Multivariate Normal", "\u2002Unw. Lev Scores"], "offset": -11},
           "layer": [
            {"data": {"name": "bars"}, "transform": [{"filter": "datum.p == '11'"}],
             "mark": {"type": "bar", "fill": "#00BFFF", "stroke": "#0000FF", "strokeWidth": 2},
             "encoding": {
               "x": {"field": "a", "type": "quantitative", "scale": {"domain": [-0.075, 1.575], "nice": false, "zero": false},
                     "axis": {"values": [0,0.25,0.5,0.75,1,1.25,1.5], "labelExpr": "abs(datum.value*4 % 2) > 0.5 ? '' : format(datum.value, '.1f')", "tickColor": {"condition": {"test": "abs(datum.value*4 % 2) > 0.5", "value": "transparent"}, "value": "#333333"}, "gridWidth": {"condition": {"test": "abs(datum.value*4 % 2) > 0.5", "value": 1}, "value": 2},
                              "title": ["unweightedLev\u2002\u2002\u2002\u2002\u2002\u2002\u2002\u2002", "||\u03b2\u0303RandGLM\u2002\u2002\u2002\u2002\u2212 \u03b2IWLS||\u2082", "\u2014\u2014\u2014\u2014\u2014\u2014\u2014\u2014\u2014\u2014\u2014\u2014\u2014", "||\u03b2IWLS||\u2082"], "titleFontSize": 21, "titleLineHeight": 20, "titlePadding": 7}},
               "x2": {"field": "b"},
               "y": {"field": "h", "type": "quantitative", "scale": {"domain": [-0.26, 5.51], "nice": false, "zero": false},
                     "axis": {"values": [0,0.5,1,1.5,2,2.5,3,3.5,4,4.5,5,5.5], "labelExpr": "abs(datum.value*2 % 2) > 0.5 ? '' : format(datum.value, 'd')", "tickColor": {"condition": {"test": "abs(datum.value*2 % 2) > 0.5", "value": "transparent"}, "value": "#333333"}, "gridWidth": {"condition": {"test": "abs(datum.value*2 % 2) > 0.5", "value": 1}, "value": 2}, "title": "Count/Density", "titleFontSize": 26, "titlePadding": 17}},
               "y2": {"datum": 0}}},
            {"data": {"name": "dens"}, "transform": [{"filter": "datum.p == '11'"}],
             "mark": {"type": "area", "fill": "transparent", "stroke": "#000000", "strokeWidth": 3, "interpolate": "monotone"},
             "encoding": {"x": {"field": "x", "type": "quantitative"}, "y": {"field": "d", "type": "quantitative"}, "y2": {"datum": 0}}}
          ]},
          {"width": 351, "height": 121, "title": {"text": ["b) Moderately Nonuniform", "Multivariate t (df=1)", "\u2002Unw. Lev Scores"]},
           "layer": [
            {"data": {"name": "bars"}, "transform": [{"filter": "datum.p == '12'"}],
             "mark": {"type": "bar", "fill": "#00BFFF", "stroke": "#0000FF", "strokeWidth": 2},
             "encoding": {
               "x": {"field": "a", "type": "quantitative", "scale": {"domain": [-0.075, 1.575], "nice": false, "zero": false},
                     "axis": {"values": [0,0.25,0.5,0.75,1,1.25,1.5], "labelExpr": "abs(datum.value*4 % 2) > 0.5 ? '' : format(datum.value, '.1f')", "tickColor": {"condition": {"test": "abs(datum.value*4 % 2) > 0.5", "value": "transparent"}, "value": "#333333"}, "gridWidth": {"condition": {"test": "abs(datum.value*4 % 2) > 0.5", "value": 1}, "value": 2},
                              "title": ["unweightedLev\u2002\u2002\u2002\u2002\u2002\u2002\u2002\u2002", "||\u03b2\u0303RandGLM\u2002\u2002\u2002\u2002\u2212 \u03b2IWLS||\u2082", "\u2014\u2014\u2014\u2014\u2014\u2014\u2014\u2014\u2014\u2014\u2014\u2014\u2014", "||\u03b2IWLS||\u2082"], "titleFontSize": 21, "titleLineHeight": 20, "titlePadding": 7}},
               "x2": {"field": "b"},
               "y": {"field": "h", "type": "quantitative", "scale": {"domain": [-0.17, 3.55], "nice": false, "zero": false},
                     "axis": {"values": [0,0.5,1,1.5,2,2.5,3,3.5], "labelExpr": "abs(datum.value*2 % 2) > 0.5 ? '' : format(datum.value, 'd')", "tickColor": {"condition": {"test": "abs(datum.value*2 % 2) > 0.5", "value": "transparent"}, "value": "#333333"}, "gridWidth": {"condition": {"test": "abs(datum.value*2 % 2) > 0.5", "value": 1}, "value": 2}, "title": null}},
               "y2": {"datum": 0}}},
            {"data": {"name": "dens"}, "transform": [{"filter": "datum.p == '12'"}],
             "mark": {"type": "area", "fill": "transparent", "stroke": "#000000", "strokeWidth": 3, "interpolate": "monotone"},
             "encoding": {"x": {"field": "x", "type": "quantitative"}, "y": {"field": "d", "type": "quantitative"}, "y2": {"datum": 0}}}
          ]},
          {"width": 353, "height": 121, "title": {"text": ["c) Very Nonuniform", "Multivariate t (df=3)", "\u2002Unw. Lev Scores"]},
           "layer": [
            {"data": {"name": "bars"}, "transform": [{"filter": "datum.p == '13'"}],
             "mark": {"type": "bar", "fill": "#00BFFF", "stroke": "#0000FF", "strokeWidth": 2},
             "encoding": {
               "x": {"field": "a", "type": "quantitative", "scale": {"domain": [-0.075, 1.575], "nice": false, "zero": false},
                     "axis": {"values": [0,0.25,0.5,0.75,1,1.25,1.5], "labelExpr": "abs(datum.value*4 % 2) > 0.5 ? '' : format(datum.value, '.1f')", "tickColor": {"condition": {"test": "abs(datum.value*4 % 2) > 0.5", "value": "transparent"}, "value": "#333333"}, "gridWidth": {"condition": {"test": "abs(datum.value*4 % 2) > 0.5", "value": 1}, "value": 2},
                              "title": ["unweightedLev\u2002\u2002\u2002\u2002\u2002\u2002\u2002\u2002", "||\u03b2\u0303RandGLM\u2002\u2002\u2002\u2002\u2212 \u03b2IWLS||\u2082", "\u2014\u2014\u2014\u2014\u2014\u2014\u2014\u2014\u2014\u2014\u2014\u2014\u2014", "||\u03b2IWLS||\u2082"], "titleFontSize": 21, "titleLineHeight": 20, "titlePadding": 7}},
               "x2": {"field": "b"},
               "y": {"field": "h", "type": "quantitative", "scale": {"domain": [-0.19, 3.93], "nice": false, "zero": false},
                     "axis": {"values": [0,0.5,1,1.5,2,2.5,3,3.5], "labelExpr": "abs(datum.value*2 % 2) > 0.5 ? '' : format(datum.value, 'd')", "tickColor": {"condition": {"test": "abs(datum.value*2 % 2) > 0.5", "value": "transparent"}, "value": "#333333"}, "gridWidth": {"condition": {"test": "abs(datum.value*2 % 2) > 0.5", "value": 1}, "value": 2}, "title": null}},
               "y2": {"datum": 0}}},
            {"data": {"name": "dens"}, "transform": [{"filter": "datum.p == '13'"}],
             "mark": {"type": "area", "fill": "transparent", "stroke": "#000000", "strokeWidth": 3, "interpolate": "monotone"},
             "encoding": {"x": {"field": "x", "type": "quantitative"}, "y": {"field": "d", "type": "quantitative"}, "y2": {"datum": 0}}}
          ]},
            {"width": 315, "height": 184, "title": {"text": "Weighted"},
             "layer": [
              {"data": {"name": "bars"}, "transform": [{"filter": "datum.p == '21'"}],
               "mark": {"type": "bar", "fill": "#00BFFF", "stroke": "#0000FF", "strokeWidth": 2},
               "encoding": {
                 "x": {"field": "a", "type": "quantitative", "scale": {"domain": [-0.075, 1.575], "nice": false, "zero": false},
                       "axis": {"values": [0,0.25,0.5,0.75,1,1.25,1.5], "labelExpr": "abs(datum.value*4 % 2) > 0.5 ? '' : format(datum.value, '.1f')", "tickColor": {"condition": {"test": "abs(datum.value*4 % 2) > 0.5", "value": "transparent"}, "value": "#333333"}, "gridWidth": {"condition": {"test": "abs(datum.value*4 % 2) > 0.5", "value": 1}, "value": 2},
                                "title": ["weightedLev\u2002\u2002\u2002\u2002\u2002\u2002\u2002\u2002", "||\u03b2\u0303RandGLM\u2002\u2002\u2212 \u03b2IWLS||\u2082", "\u2014\u2014\u2014\u2014\u2014\u2014\u2014\u2014\u2014\u2014\u2014\u2014", "||\u03b2IWLS||\u2082"], "titleFontSize": 21, "titleLineHeight": 20, "titlePadding": 7}},
                 "x2": {"field": "b"},
                 "y": {"field": "h", "type": "quantitative", "scale": {"domain": [-0.215, 4.515], "nice": false, "zero": false},
                       "axis": {"values": [0,0.5,1,1.5,2,2.5,3,3.5,4,4.5], "labelExpr": "abs(datum.value*2 % 2) > 0.5 ? '' : format(datum.value, 'd')", "tickColor": {"condition": {"test": "abs(datum.value*2 % 2) > 0.5", "value": "transparent"}, "value": "#333333"}, "gridWidth": {"condition": {"test": "abs(datum.value*2 % 2) > 0.5", "value": 1}, "value": 2}, "title": "Count/Density", "titleFontSize": 26, "titlePadding": 17}},
                 "y2": {"datum": 0}}},
              {"data": {"name": "dens"}, "transform": [{"filter": "datum.p == '21'"}],
               "mark": {"type": "area", "fill": "transparent", "stroke": "#000000", "strokeWidth": 3, "interpolate": "monotone"},
               "encoding": {"x": {"field": "x", "type": "quantitative"}, "y": {"field": "d", "type": "quantitative"}, "y2": {"datum": 0}}}
            ]},
            {"width": 351, "height": 184, "title": {"text": "Weighted"},
             "layer": [
              {"data": {"name": "bars"}, "transform": [{"filter": "datum.p == '22'"}],
               "mark": {"type": "bar", "fill": "#00BFFF", "stroke": "#0000FF", "strokeWidth": 2},
               "encoding": {
                 "x": {"field": "a", "type": "quantitative", "scale": {"domain": [-0.075, 1.575], "nice": false, "zero": false},
                       "axis": {"values": [0,0.25,0.5,0.75,1,1.25,1.5], "labelExpr": "abs(datum.value*4 % 2) > 0.5 ? '' : format(datum.value, '.1f')", "tickColor": {"condition": {"test": "abs(datum.value*4 % 2) > 0.5", "value": "transparent"}, "value": "#333333"}, "gridWidth": {"condition": {"test": "abs(datum.value*4 % 2) > 0.5", "value": 1}, "value": 2},
                                "title": ["weightedLev\u2002\u2002\u2002\u2002\u2002\u2002\u2002\u2002", "||\u03b2\u0303RandGLM\u2002\u2002\u2212 \u03b2IWLS||\u2082", "\u2014\u2014\u2014\u2014\u2014\u2014\u2014\u2014\u2014\u2014\u2014\u2014", "||\u03b2IWLS||\u2082"], "titleFontSize": 21, "titleLineHeight": 20, "titlePadding": 7}},
                 "x2": {"field": "b"},
                 "y": {"field": "h", "type": "quantitative", "scale": {"domain": [-0.31, 6.52], "nice": false, "zero": false},
                       "axis": {"values": [0,1,2,3,4,5,6], "labelExpr": "abs(datum.value % 2) > 0.5 ? '' : format(datum.value, 'd')", "tickColor": {"condition": {"test": "abs(datum.value % 2) > 0.5", "value": "transparent"}, "value": "#333333"}, "gridWidth": {"condition": {"test": "abs(datum.value % 2) > 0.5", "value": 1}, "value": 2}, "title": null}},
                 "y2": {"datum": 0}}},
              {"data": {"name": "dens"}, "transform": [{"filter": "datum.p == '22'"}],
               "mark": {"type": "area", "fill": "transparent", "stroke": "#000000", "strokeWidth": 3, "interpolate": "monotone"},
               "encoding": {"x": {"field": "x", "type": "quantitative"}, "y": {"field": "d", "type": "quantitative"}, "y2": {"datum": 0}}}
            ]},
            {"width": 353, "height": 184, "title": {"text": "Weighted"},
             "layer": [
              {"data": {"name": "bars"}, "transform": [{"filter": "datum.p == '23'"}],
               "mark": {"type": "bar", "fill": "#00BFFF", "stroke": "#0000FF", "strokeWidth": 2},
               "encoding": {
                 "x": {"field": "a", "type": "quantitative", "scale": {"domain": [-0.075, 1.575], "nice": false, "zero": false},
                       "axis": {"values": [0,0.25,0.5,0.75,1,1.25,1.5], "labelExpr": "abs(datum.value*4 % 2) > 0.5 ? '' : format(datum.value, '.1f')", "tickColor": {"condition": {"test": "abs(datum.value*4 % 2) > 0.5", "value": "transparent"}, "value": "#333333"}, "gridWidth": {"condition": {"test": "abs(datum.value*4 % 2) > 0.5", "value": 1}, "value": 2},
                                "title": ["weightedLev\u2002\u2002\u2002\u2002\u2002\u2002\u2002\u2002", "||\u03b2\u0303RandGLM\u2002\u2002\u2212 \u03b2IWLS||\u2082", "\u2014\u2014\u2014\u2014\u2014\u2014\u2014\u2014\u2014\u2014\u2014\u2014", "||\u03b2IWLS||\u2082"], "titleFontSize": 21, "titleLineHeight": 20, "titlePadding": 7}},
                 "x2": {"field": "b"},
                 "y": {"field": "h", "type": "quantitative", "scale": {"domain": [-0.32, 6.76], "nice": false, "zero": false},
                       "axis": {"values": [0,1,2,3,4,5,6], "labelExpr": "abs(datum.value % 2) > 0.5 ? '' : format(datum.value, 'd')", "tickColor": {"condition": {"test": "abs(datum.value % 2) > 0.5", "value": "transparent"}, "value": "#333333"}, "gridWidth": {"condition": {"test": "abs(datum.value % 2) > 0.5", "value": 1}, "value": 2}, "title": null}},
                 "y2": {"datum": 0}}},
              {"data": {"name": "dens"}, "transform": [{"filter": "datum.p == '23'"}],
               "mark": {"type": "area", "fill": "transparent", "stroke": "#000000", "strokeWidth": 3, "interpolate": "monotone"},
               "encoding": {"x": {"field": "x", "type": "quantitative"}, "y": {"field": "d", "type": "quantitative"}, "y2": {"datum": 0}}}
            ]},
            {"width": 315, "height": 190, "title": {"text": "Influence"},
             "layer": [
              {"data": {"name": "bars"}, "transform": [{"filter": "datum.p == '31'"}],
               "mark": {"type": "bar", "fill": "#00BFFF", "stroke": "#0000FF", "strokeWidth": 2},
               "encoding": {
                 "x": {"field": "a", "type": "quantitative", "scale": {"domain": [-0.075, 1.575], "nice": false, "zero": false},
                       "axis": {"values": [0,0.25,0.5,0.75,1,1.25,1.5], "labelExpr": "abs(datum.value*4 % 2) > 0.5 ? '' : format(datum.value, '.1f')", "tickColor": {"condition": {"test": "abs(datum.value*4 % 2) > 0.5", "value": "transparent"}, "value": "#333333"}, "gridWidth": {"condition": {"test": "abs(datum.value*4 % 2) > 0.5", "value": 1}, "value": 2},
                                "title": ["influence\u2002\u2002\u2002\u2002\u2002\u2002\u2002\u2002\u2002", "||\u03b2\u0303RandGLM \u2212 \u03b2IWLS||\u2082", "\u2014\u2014\u2014\u2014\u2014\u2014\u2014\u2014\u2014\u2014\u2014", "||\u03b2IWLS||\u2082"], "titleFontSize": 21, "titleLineHeight": 20, "titlePadding": 7}},
                 "x2": {"field": "b"},
                 "y": {"field": "h", "type": "quantitative", "scale": {"domain": [-0.25, 5.31], "nice": false, "zero": false},
                       "axis": {"values": [0,0.5,1,1.5,2,2.5,3,3.5,4,4.5,5], "labelExpr": "abs(datum.value*2 % 2) > 0.5 ? '' : format(datum.value, 'd')", "tickColor": {"condition": {"test": "abs(datum.value*2 % 2) > 0.5", "value": "transparent"}, "value": "#333333"}, "gridWidth": {"condition": {"test": "abs(datum.value*2 % 2) > 0.5", "value": 1}, "value": 2}, "title": "Count/Density", "titleFontSize": 26, "titlePadding": 17}},
                 "y2": {"datum": 0}}},
              {"data": {"name": "dens"}, "transform": [{"filter": "datum.p == '31'"}],
               "mark": {"type": "area", "fill": "transparent", "stroke": "#000000", "strokeWidth": 3, "interpolate": "monotone"},
               "encoding": {"x": {"field": "x", "type": "quantitative"}, "y": {"field": "d", "type": "quantitative"}, "y2": {"datum": 0}}}
            ]},
            {"width": 351, "height": 190, "title": {"text": "Influence"},
             "layer": [
              {"data": {"name": "bars"}, "transform": [{"filter": "datum.p == '32'"}],
               "mark": {"type": "bar", "fill": "#00BFFF", "stroke": "#0000FF", "strokeWidth": 2},
               "encoding": {
                 "x": {"field": "a", "type": "quantitative", "scale": {"domain": [-0.075, 1.575], "nice": false, "zero": false},
                       "axis": {"values": [0,0.25,0.5,0.75,1,1.25,1.5], "labelExpr": "abs(datum.value*4 % 2) > 0.5 ? '' : format(datum.value, '.1f')", "tickColor": {"condition": {"test": "abs(datum.value*4 % 2) > 0.5", "value": "transparent"}, "value": "#333333"}, "gridWidth": {"condition": {"test": "abs(datum.value*4 % 2) > 0.5", "value": 1}, "value": 2},
                                "title": ["influence\u2002\u2002\u2002\u2002\u2002\u2002\u2002\u2002\u2002", "||\u03b2\u0303RandGLM \u2212 \u03b2IWLS||\u2082", "\u2014\u2014\u2014\u2014\u2014\u2014\u2014\u2014\u2014\u2014\u2014", "||\u03b2IWLS||\u2082"], "titleFontSize": 21, "titleLineHeight": 20, "titlePadding": 7}},
                 "x2": {"field": "b"},
                 "y": {"field": "h", "type": "quantitative", "scale": {"domain": [-0.22, 4.59], "nice": false, "zero": false},
                       "axis": {"values": [0,0.5,1,1.5,2,2.5,3,3.5,4,4.5], "labelExpr": "abs(datum.value*2 % 2) > 0.5 ? '' : format(datum.value, 'd')", "tickColor": {"condition": {"test": "abs(datum.value*2 % 2) > 0.5", "value": "transparent"}, "value": "#333333"}, "gridWidth": {"condition": {"test": "abs(datum.value*2 % 2) > 0.5", "value": 1}, "value": 2}, "title": null}},
                 "y2": {"datum": 0}}},
              {"data": {"name": "dens"}, "transform": [{"filter": "datum.p == '32'"}],
               "mark": {"type": "area", "fill": "transparent", "stroke": "#000000", "strokeWidth": 3, "interpolate": "monotone"},
               "encoding": {"x": {"field": "x", "type": "quantitative"}, "y": {"field": "d", "type": "quantitative"}, "y2": {"datum": 0}}}
            ]},
            {"width": 353, "height": 190, "title": {"text": "Influence", "offset": 5},
             "layer": [
              {"data": {"name": "bars"}, "transform": [{"filter": "datum.p == '33'"}],
               "mark": {"type": "bar", "fill": "#00BFFF", "stroke": "#0000FF", "strokeWidth": 2},
               "encoding": {
                 "x": {"field": "a", "type": "quantitative", "scale": {"domain": [-0.075, 1.575], "nice": false, "zero": false},
                       "axis": {"values": [0,0.25,0.5,0.75,1,1.25,1.5], "labelExpr": "abs(datum.value*4 % 2) > 0.5 ? '' : format(datum.value, '.1f')", "tickColor": {"condition": {"test": "abs(datum.value*4 % 2) > 0.5", "value": "transparent"}, "value": "#333333"}, "gridWidth": {"condition": {"test": "abs(datum.value*4 % 2) > 0.5", "value": 1}, "value": 2},
                                "title": ["influence\u2002\u2002\u2002\u2002\u2002\u2002\u2002\u2002\u2002", "||\u03b2\u0303RandGLM \u2212 \u03b2IWLS||\u2082", "\u2014\u2014\u2014\u2014\u2014\u2014\u2014\u2014\u2014\u2014\u2014", "||\u03b2IWLS||\u2082"], "titleFontSize": 21, "titleLineHeight": 20, "titlePadding": 7}},
                 "x2": {"field": "b"},
                 "y": {"field": "h", "type": "quantitative", "scale": {"domain": [-0.2, 4.14], "nice": false, "zero": false},
                       "axis": {"values": [0,0.5,1,1.5,2,2.5,3,3.5,4], "labelExpr": "abs(datum.value*2 % 2) > 0.5 ? '' : format(datum.value, 'd')", "tickColor": {"condition": {"test": "abs(datum.value*2 % 2) > 0.5", "value": "transparent"}, "value": "#333333"}, "gridWidth": {"condition": {"test": "abs(datum.value*2 % 2) > 0.5", "value": 1}, "value": 2}, "title": null}},
                 "y2": {"datum": 0}}},
              {"data": {"name": "dens"}, "transform": [{"filter": "datum.p == '33'"}],
               "mark": {"type": "area", "fill": "transparent", "stroke": "#000000", "strokeWidth": 3, "interpolate": "monotone"},
               "encoding": {"x": {"field": "x", "type": "quantitative"}, "y": {"field": "d", "type": "quantitative"}, "y2": {"datum": 0}}}
            ]}
      ]
        }
      ]
    },
    {
      "title": {"text": "(b) Estimator Trace RandIWLS", "orient": "bottom", "frame": "bounds", "anchor": "middle", "font": "Liberation Serif", "fontSize": 46, "offset": 26},
      "spacing": 4,
      "vconcat": [
        {"width": 1, "height": 1, "view": {"fill": null, "stroke": null}, "data": {"values": [{}]}, "mark": {"type": "point", "opacity": 0}},
        {
      "spacing": 227, "bounds": "flush",
      "resolve": {"scale": {"color": "independent"}, "legend": {"color": "independent"}},
      "vconcat": [
          {"width": 1063, "height": 176, "title": {"text": "a) Nearly Uniform \u2013 Multivariate Normal", "fontSize": 31, "offset": 31},
           "layer": [
            {"data": {"name": "trace"}, "transform": [{"filter": "datum.c == 'a'"}, {"fold": ["IWLS", "Unweighted RandGLM", "Weighted RandGLM", "Influence RandGLM"], "as": ["series", "v"]}],
             "mark": {"type": "line"},
             "encoding": {
               "x": {"field": "i", "type": "quantitative", "scale": {"domain": [-1.45, 52.45], "nice": false, "zero": false},
                     "axis": {"values": [0,5,10,15,20,25,30,35,40,45,50], "labelExpr": "abs(datum.value % 10) > 2 ? '' : format(datum.value, 'd')", "tickColor": {"condition": {"test": "abs(datum.value % 10) > 2", "value": "transparent"}, "value": "#333333"}, "gridWidth": {"condition": {"test": "abs(datum.value % 10) > 2", "value": 1}, "value": 2}, "title": "Iteration", "titleFontSize": 26, "titlePadding": 5, "labelFontSize": 22}},
               "y": {"field": "v", "type": "quantitative", "scale": {"domain": [-0.525, 0.025], "nice": false, "zero": false},
                     "axis": {"values": [0,-0.05,-0.1,-0.15,-0.2,-0.25,-0.3,-0.35,-0.4,-0.45,-0.5], "labelExpr": "abs(datum.value*20 % 2) > 0.5 ? '' : replace(format(datum.value, '.1f'), '\u2212', '-')", "tickColor": {"condition": {"test": "abs(datum.value*20 % 2) > 0.5", "value": "transparent"}, "value": "#333333"}, "gridWidth": {"condition": {"test": "abs(datum.value*20 % 2) > 0.5", "value": 1}, "value": 2}, "title": "\u03b2\u208d\u2096\u208e\u1d3f\u1d43\u207f\u1d48\u1d33\u1d38\u1d39", "titleFont": "DejaVu Sans", "titleFontSize": 26, "titlePadding": 36, "labelFontSize": 22}},
               "color": {"field": "series", "type": "nominal", "scale": {"domain": ["IWLS", "Unweighted RandGLM", "Weighted RandGLM", "Influence RandGLM"], "range": ["#F8766D", "#7CAE00", "#00BFC4", "#C77CFF"]},
                         "legend": {"title": null, "orient": "top", "direction": "horizontal", "symbolType": "stroke", "symbolStrokeWidth": 4, "symbolSize": 1156, "labelFontSize": 21, "labelLimit": 400, "labelOffset": 6, "columnPadding": 10, "offset": 50}},
               "strokeWidth": {"condition": {"test": "datum.series == 'IWLS'", "value": 3}, "value": 2}}},
            {"data": {"name": "vline"}, "transform": [{"filter": "datum.c == 'a'"}],
             "mark": {"type": "rule", "color": "#000000", "strokeWidth": 2},
             "encoding": {"x": {"field": "k", "type": "quantitative"}}}
          ]},
          {"width": 1063, "height": 176, "title": {"text": "b) Moderately Nonuniform \u2013 Multivariate t (df=1)", "fontSize": 31, "offset": 31},
           "layer": [
            {"data": {"name": "trace"}, "transform": [{"filter": "datum.c == 'b'"}, {"fold": ["IWLS", "Unweighted RandGLM", "Weighted RandGLM", "Influence RandGLM"], "as": ["series", "v"]}],
             "mark": {"type": "line"},
             "encoding": {
               "x": {"field": "i", "type": "quantitative", "scale": {"domain": [-1.45, 52.45], "nice": false, "zero": false},
                     "axis": {"values": [0,5,10,15,20,25,30,35,40,45,50], "labelExpr": "abs(datum.value % 10) > 2 ? '' : format(datum.value, 'd')", "tickColor": {"condition": {"test": "abs(datum.value % 10) > 2", "value": "transparent"}, "value": "#333333"}, "gridWidth": {"condition": {"test": "abs(datum.value % 10) > 2", "value": 1}, "value": 2}, "title": "Iteration", "titleFontSize": 26, "titlePadding": 5, "labelFontSize": 22}},
               "y": {"field": "v", "type": "quantitative", "scale": {"domain": [-0.525, 0.025], "nice": false, "zero": false},
                     "axis": {"values": [0,-0.05,-0.1,-0.15,-0.2,-0.25,-0.3,-0.35,-0.4,-0.45,-0.5], "labelExpr": "abs(datum.value*20 % 2) > 0.5 ? '' : replace(format(datum.value, '.1f'), '\u2212', '-')", "tickColor": {"condition": {"test": "abs(datum.value*20 % 2) > 0.5", "value": "transparent"}, "value": "#333333"}, "gridWidth": {"condition": {"test": "abs(datum.value*20 % 2) > 0.5", "value": 1}, "value": 2}, "title": "\u03b2\u208d\u2096\u208e\u1d3f\u1d43\u207f\u1d48\u1d33\u1d38\u1d39", "titleFont": "DejaVu Sans", "titleFontSize": 26, "titlePadding": 36, "labelFontSize": 22}},
               "color": {"field": "series", "type": "nominal", "scale": {"domain": ["IWLS", "Unweighted RandGLM", "Weighted RandGLM", "Influence RandGLM"], "range": ["#F8766D", "#7CAE00", "#00BFC4", "#C77CFF"]},
                         "legend": {"title": null, "orient": "top", "direction": "horizontal", "symbolType": "stroke", "symbolStrokeWidth": 4, "symbolSize": 1156, "labelFontSize": 21, "labelLimit": 400, "labelOffset": 6, "columnPadding": 10, "offset": 50}},
               "strokeWidth": {"condition": {"test": "datum.series == 'IWLS'", "value": 3}, "value": 2}}},
            {"data": {"name": "vline"}, "transform": [{"filter": "datum.c == 'b'"}],
             "mark": {"type": "rule", "color": "#000000", "strokeWidth": 2},
             "encoding": {"x": {"field": "k", "type": "quantitative"}}}
          ]},
          {"width": 1063, "height": 176, "title": {"text": "c) Very Nonuniform \u2013 Multivariate t (df=2)", "fontSize": 31, "offset": 31},
           "layer": [
            {"data": {"name": "trace"}, "transform": [{"filter": "datum.c == 'c'"}, {"fold": ["IWLS", "Unweighted RandGLM", "Weighted RandGLM", "Influence RandGLM"], "as": ["series", "v"]}],
             "mark": {"type": "line"},
             "encoding": {
               "x": {"field": "i", "type": "quantitative", "scale": {"domain": [-1.45, 52.45], "nice": false, "zero": false},
                     "axis": {"values": [0,5,10,15,20,25,30,35,40,45,50], "labelExpr": "abs(datum.value % 10) > 2 ? '' : format(datum.value, 'd')", "tickColor": {"condition": {"test": "abs(datum.value % 10) > 2", "value": "transparent"}, "value": "#333333"}, "gridWidth": {"condition": {"test": "abs(datum.value % 10) > 2", "value": 1}, "value": 2}, "title": "Iteration", "titleFontSize": 26, "titlePadding": 5, "labelFontSize": 22}},
               "y": {"field": "v", "type": "quantitative", "scale": {"domain": [-0.525, 0.025], "nice": false, "zero": false},
                     "axis": {"values": [0,-0.05,-0.1,-0.15,-0.2,-0.25,-0.3,-0.35,-0.4,-0.45,-0.5], "labelExpr": "abs(datum.value*20 % 2) > 0.5 ? '' : replace(format(datum.value, '.1f'), '\u2212', '-')", "tickColor": {"condition": {"test": "abs(datum.value*20 % 2) > 0.5", "value": "transparent"}, "value": "#333333"}, "gridWidth": {"condition": {"test": "abs(datum.value*20 % 2) > 0.5", "value": 1}, "value": 2}, "title": "\u03b2\u208d\u2096\u208e\u1d3f\u1d43\u207f\u1d48\u1d33\u1d38\u1d39", "titleFont": "DejaVu Sans", "titleFontSize": 26, "titlePadding": 36, "labelFontSize": 22}},
               "color": {"field": "series", "type": "nominal", "scale": {"domain": ["IWLS", "Unweighted RandGLM", "Weighted RandGLM", "Influence RandGLM"], "range": ["#F8766D", "#7CAE00", "#00BFC4", "#C77CFF"]},
                         "legend": {"title": null, "orient": "top", "direction": "horizontal", "symbolType": "stroke", "symbolStrokeWidth": 4, "symbolSize": 1156, "labelFontSize": 21, "labelLimit": 400, "labelOffset": 6, "columnPadding": 10, "offset": 50}},
               "strokeWidth": {"condition": {"test": "datum.series == 'IWLS'", "value": 3}, "value": 2}}},
            {"data": {"name": "vline"}, "transform": [{"filter": "datum.c == 'c'"}],
             "mark": {"type": "rule", "color": "#000000", "strokeWidth": 2},
             "encoding": {"x": {"field": "k", "type": "quantitative"}}}
          ]}
      ]
        }
      ]
    }
  ],
  "spacing": 170,
  "config": {
    "view": {"fill": "#EBEBEB", "stroke": null},
    "axis": {"domain": false, "grid": true, "gridColor": "#FFFFFF", "labelColor": "#4D4D4D", "labelFont": "Liberation Sans", "labelFontSize": 21, "tickSize": 6, "tickWidth": 2, "labelPadding": 3, "labelOverlap": false, "labelFlush": false, "titleFont": "Liberation Sans", "titleFontWeight": "normal", "titleColor": "#000000"},
    "title": {"font": "Liberation Sans", "fontWeight": "normal", "fontSize": 30, "color": "#000000", "anchor": "middle", "frame": "group", "lineHeight": 34, "offset": 10},
    "legend": {"labelFont": "Liberation Sans", "labelColor": "#000000", "layout": {"top": {"anchor": "middle"}}}
  }
}
